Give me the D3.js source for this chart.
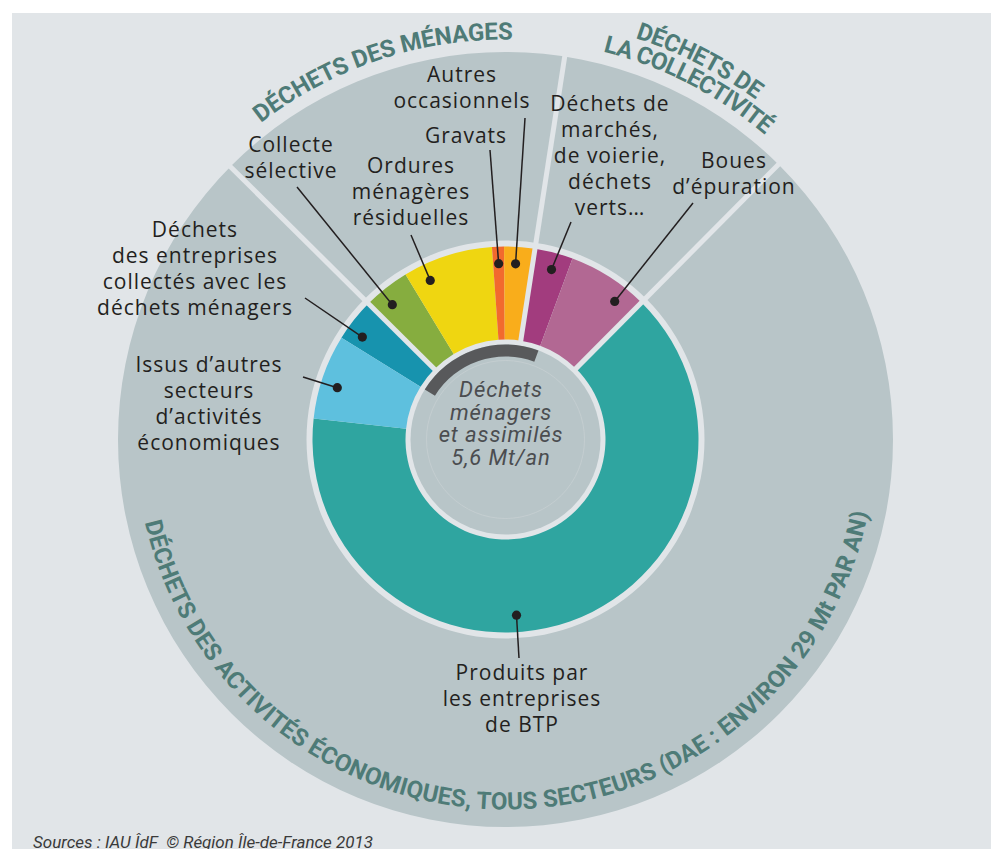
<!DOCTYPE html>
<html>
<head>
<meta charset="UTF-8">
<title>Déchets</title>
<style>
  html, body { margin: 0; padding: 0; background: #fff; }
  svg { display: block; }
  .lbl { font-family: "Open Sans", sans-serif; font-size: 21px; letter-spacing: 1px; fill: #231f20; }
  .ttl { font-family: Roboto, sans-serif; font-weight: 700; font-size: 24px; fill: #4e7b77; }
  .ctr { font-family: Roboto, sans-serif; font-style: italic; font-size: 22px; letter-spacing: 0.9px; fill: #4b4d50; }
</style>
</head>
<body>
<script src="https://cdn.jsdelivr.net/npm/d3@7"></script>
<script>
// categories, clockwise from the top-left ("déchets ménagers et assimilés" first)
var categories = [
  "Déchets des entreprises collectés avec les déchets ménagers",
  "Collecte sélective",
  "Ordures ménagères résiduelles",
  "Gravats",
  "Autres occasionnels",
  "Déchets de marchés, de voierie, déchets verts…",
  "Boues d’épuration",
  "Produits par les entreprises de BTP",
  "Issus d’autres secteurs d’activités économiques"
];
// share of the ring (%)
var shares = [3.6, 3.9, 7.55, 1.0, 2.56, 3.2, 6.8, 64.3, 7.1];
var groups = ["dae", "menages", "menages", "menages", "menages", "collectivite", "collectivite", "dae", "dae"];
var inDMA = [true, true, true, true, true, true, false, false, false];
var colors = ["#1793ae", "#86ad3f", "#efd611", "#f26a2e", "#f9ad1b", "#a23c7e", "#b26893", "#2fa5a0", "#5ec0de"];

var labelLines = [
  ["Déchets", "des entreprises", "collectés avec les", "déchets ménagers"],
  ["Collecte", "sélective"],
  ["Ordures", "ménagères", "résiduelles"],
  ["Gravats"],
  ["Autres", "occasionnels"],
  ["Déchets de", "marchés,", "de voierie,", "déchets", "verts…"],
  ["Boues", "d’épuration"],
  ["Produits par", "les entreprises", "de BTP"],
  ["Issus d’autres", "secteurs", "d’activités", "économiques"]
];
var centerLines = ["Déchets", "ménagers", "et assimilés", "5,6 Mt/an"];
var titleMenages = "DÉCHETS DES MÉNAGES";
var titleCollect = ["DÉCHETS DE", "LA COLLECTIVITÉ"];
var titleDAE = "DÉCHETS DES ACTIVITÉS ÉCONOMIQUES, TOUS SECTEURS (DAE : ENVIRON 29 Mt PAR AN)";
var source = "Sources : IAU ÎdF\u00a0 © Région Île-de-France 2013";

// layout of the labels: text anchor, leader end, dot nudge (deg)
var labelPos = [
  {x: 195, y: 237, lx: 305, ly: 298, nudge: -2.7},
  {x: 291, y: 152, lx: 297, ly: 187, nudge: -1.8},
  {x: 411, y: 173, lx: 411, ly: 235, nudge: -7.7},
  {x: 466, y: 143, lx: 490, ly: 150, nudge: 0},
  {x: 462, y: 82,  lx: 525, ly: 118, nudge: -0.9},
  {x: 610, y: 111, lx: 571, ly: 222, nudge: 0.6},
  {x: 734, y: 168, lx: 693, ly: 203, nudge: 5.8},
  {x: 522, y: 680, lx: 519, ly: 658, nudge: 15.9},
  {x: 209, y: 372, lx: 303, ly: 377, nudge: -1.9}
];

var W = 991, H = 849, cx = 505.5, cy = 439.5;
var bg = "#e1e5e8", ringGray = "#b8c5c8";
var rad = Math.PI / 180;

var svg = d3.select("body").append("svg").attr("width", W).attr("height", H);
svg.append("rect").attr("width", W).attr("height", H).attr("fill", "#fff");
svg.append("rect").attr("x", 12).attr("y", 13).attr("width", W - 12).attr("height", H - 13).attr("fill", bg);

var g = svg.append("g").attr("transform", "translate(" + cx + "," + cy + ")");

var data = categories.map(function(c, i) { return {name: c, value: shares[i], i: i}; });
var start = -58.2 * rad;
var pie = d3.pie().sort(null).value(function(d) { return d.value; })
  .startAngle(start).endAngle(start + 2 * Math.PI);
var arcs = pie(data);

// outer ring
g.append("path")
  .attr("d", d3.arc().innerRadius(199).outerRadius(387.5)({startAngle: 0, endAngle: 2 * Math.PI}))
  .attr("fill", ringGray);

// inner ring slices
var inner = d3.arc().innerRadius(100).outerRadius(193);
g.selectAll("path.slice").data(arcs).enter().append("path")
  .attr("class", "slice")
  .attr("d", inner)
  .attr("fill", function(d) { return colors[d.index]; });

// centre disk
g.append("circle").attr("r", 95).attr("fill", ringGray);
g.append("circle").attr("r", 79).attr("fill", "none").attr("stroke", "#c6cfd2").attr("stroke-width", 0.8);

// DMA arc
var dma = arcs.filter(function(d) { return inDMA[d.index]; });
g.append("path")
  .attr("d", d3.arc().innerRadius(83).outerRadius(95)({
    startAngle: d3.min(dma, function(d) { return d.startAngle; }),
    endAngle: d3.max(dma, function(d) { return d.endAngle; })
  }))
  .attr("fill", "#58595b");

// separators between groups
var seps = [];
arcs.forEach(function(d, k) {
  var prev = arcs[(k + arcs.length - 1) % arcs.length];
  if (groups[prev.index] !== groups[d.index]) seps.push(d.startAngle);
});
g.selectAll("line.sep").data(seps).enter().append("line")
  .attr("x1", function(a) { return 96 * Math.sin(a); })
  .attr("y1", function(a) { return -96 * Math.cos(a); })
  .attr("x2", function(a) { return 392 * Math.sin(a); })
  .attr("y2", function(a) { return -392 * Math.cos(a); })
  .attr("stroke", bg).attr("stroke-width", 5);

// leaders + dots
var dotR = 176;
arcs.forEach(function(d) {
  var p = labelPos[d.index];
  var a = (d.startAngle + d.endAngle) / 2 + p.nudge * rad;
  var x = dotR * Math.sin(a), y = -dotR * Math.cos(a);
  g.append("line")
    .attr("x1", x).attr("y1", y)
    .attr("x2", p.lx - cx).attr("y2", p.ly - cy)
    .attr("stroke", "#231f20").attr("stroke-width", 1.5);
  g.append("circle").attr("cx", x).attr("cy", y).attr("r", 4.6).attr("fill", "#231f20");
});

// labels
labelLines.forEach(function(lines, i) {
  var p = labelPos[i];
  var t = svg.append("text").attr("class", "lbl").attr("text-anchor", "middle");
  lines.forEach(function(s, k) {
    t.append("tspan").attr("x", p.x).attr("y", p.y + k * 26).text(s);
  });
});

// centre text
var ct = svg.append("text").attr("class", "ctr").attr("text-anchor", "middle");
centerLines.forEach(function(s, k) {
  ct.append("tspan").attr("x", 501).attr("y", 397 + k * 22.7).text(s);
});

// curved titles
function measure(str, cls) {
  var t = svg.append("text").attr("class", cls).text(str);
  var w = t.node().getComputedTextLength();
  t.remove();
  return w;
}
var pid = 0;
function curved(str, r, midDeg, spanDeg, outward) {
  var id = "tp" + (pid++);
  var p = d3.path();
  var m = (midDeg - 90) * rad, h = 80 * rad;
  if (outward) p.arc(0, 0, r, m - h, m + h, false);
  else p.arc(0, 0, r, m + h, m - h, true);
  g.append("path").attr("id", id).attr("d", p.toString()).attr("fill", "none");
  var target = r * spanDeg * rad;
  var w = measure(str, "ttl");
  var ls = (target - w) / str.length;
  g.append("text").attr("class", "ttl").style("letter-spacing", ls + "px")
    .append("textPath").attr("href", "#" + id)
    .attr("startOffset", "50%").attr("text-anchor", "middle")
    .text(str);
}
curved(titleMenages, 400, -18.35, 38.7, true);
curved(titleCollect[0], 422, 27.1, 18.4, true);
curved(titleCollect[1], 400, 27.2, 26.2, true);
curved(titleDAE, 370, 179.25, 155.5, false);

// source
svg.append("text").attr("x", 33).attr("y", 848)
  .attr("textLength", 340).attr("lengthAdjust", "spacingAndGlyphs")
  .style("font-family", "Roboto, sans-serif").style("font-style", "italic")
  .style("font-size", "16px").style("fill", "#3a3a3a")
  .text(source);
</script>
</body>
</html>
